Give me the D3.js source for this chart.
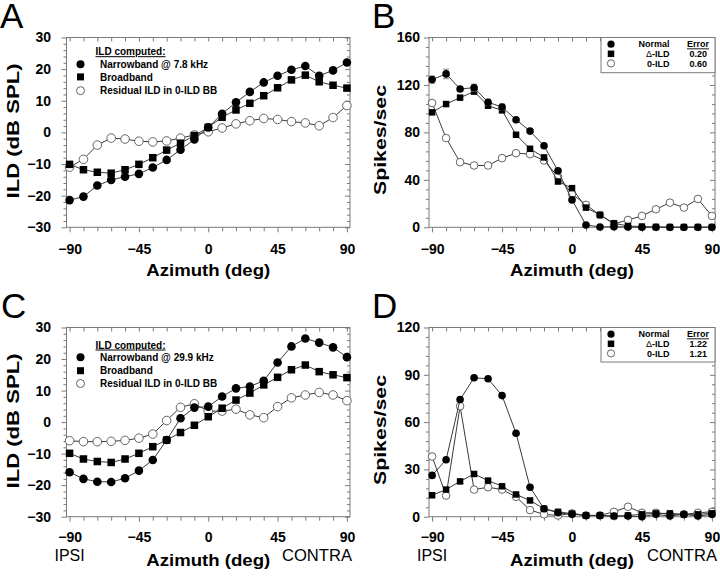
<!DOCTYPE html>
<html><head><meta charset="utf-8">
<script src="https://cdn.jsdelivr.net/npm/d3@7"></script>
<style>
body{margin:0;background:#fff;}
svg{display:block;font-family:"Liberation Sans",Arial,sans-serif;}
</style></head><body>
<svg id="chart" width="720" height="576"></svg>
<script>
// ---------- data ----------
const azimuth = [-90,-81,-72,-63,-54,-45,-36,-27,-18,-9,0,9,18,27,36,45,54,63,72,81,90];
const xTickValues = [-90,-45,0,45,90];

// Panel A (ILD, dB SPL)
const ildA_narrow = [-21.4,-20.3,-16.8,-15.0,-14.0,-13.1,-11.1,-8.7,-5.5,-2.2,1.6,5.9,9.5,12.8,15.8,17.9,19.8,21.0,17.9,19.6,22.1];
const ildA_broad  = [-10.1,-11.8,-12.6,-12.9,-11.8,-10.1,-8.0,-5.6,-3.4,-1.0,1.6,4.8,7.1,9.2,11.6,14.1,16.6,18.1,16.0,14.9,14.0];
const ildA_resid  = [-11.0,-8.5,-4.0,-1.8,-2.1,-2.8,-3.0,-2.7,-1.8,-0.8,0.2,1.4,2.7,3.7,4.4,4.1,3.4,3.0,2.1,4.7,8.5];

// Panel B (Spikes/sec)
const spkB_normal    = [124.5,129.3,116.6,117.7,105.4,101.4,90.7,81.1,68.7,47.6,23.1,2.0,0.3,0.5,0.2,0,0,0,0,0,0];
const spkB_normalErr = [3,4,2,3,2.5,2.5,1.5,1.5,1.5,1.5,1.5,1,0.5,0.5,0,0,0,0,0,0,0];
const spkB_dild      = [96.9,103.9,109.3,114.4,102.5,98.6,78.0,66.2,58.9,38.6,33.0,16.6,10.4,3.4,1.1,0.6,0.3,0.2,0.2,0.2,0.2];
const spkB_zild      = [104.8,75.2,54.9,52.1,52.1,58.3,62.5,61.7,56.3,42.8,28.2,18.9,10.4,2.8,6.2,9.6,15.2,20.8,16.6,23.9,9.6];

// Panel C (ILD, dB SPL)
const ildC_narrow = [-15.9,-18.0,-18.9,-19.0,-17.8,-15.4,-12.0,-5.7,1.2,4.6,4.9,8.1,10.7,11.3,13.1,18.9,24.0,26.5,25.2,23.7,20.6];
const ildC_broad  = [-9.9,-11.7,-12.5,-12.8,-11.7,-9.9,-7.8,-5.7,-3.3,-1.0,1.7,4.4,7.0,9.2,11.8,14.2,16.6,18.1,16.0,15.0,14.1];
const ildC_resid  = [-5.9,-6.2,-6.2,-6.1,-5.8,-5.1,-3.8,0.5,4.7,5.8,3.5,3.5,4.1,2.3,1.4,4.9,7.7,8.6,9.4,8.6,6.8];

// Panel D (Spikes/sec)
const spkD_normal = [26.2,36.1,74.3,88.1,87.5,76.8,52.9,18.7,5.0,2.5,1.5,0.8,0.8,0.4,0.4,0,1.5,0.4,1.5,0.4,1.5];
const spkD_dild   = [13.6,17.2,22.4,27.1,22.9,19.3,14.1,10.3,5.0,3.1,1.9,0.8,0.8,0.4,0.8,1.5,2.1,2.1,1.5,1.5,2.1];
const spkD_zild   = [38.2,13.4,70.1,17.2,18.7,17.2,12.6,4.2,1.5,0.8,2.1,0.8,0.8,3.1,6.3,2.5,2.5,1.5,1.5,2.5,3.1];

// tick labels
const yTicksILD = [-30,-20,-10,0,10,20,30];
const yTicksB   = [0,40,80,120,160];
const yTicksD   = [0,30,60,90,120];

// legend texts
const legendILD_A = ["Narrowband @ 7.8 kHz","Broadband","Residual ILD in 0-ILD BB"];
const legendILD_C = ["Narrowband @ 29.9 kHz","Broadband","Residual ILD in 0-ILD BB"];
const legendSpk   = ["Normal","\u0394-ILD","0-ILD"];
const errorsB = ["0.20","0.60"];
const errorsD = ["1.22","1.21"];

// ---------- drawing ----------
const svg = d3.select("#chart");
const FRAME = "#7a7a7a", LINE = "#3a3a3a";

function panel(cfg){
  const g = svg.append("g");
  const x = d3.scaleLinear().domain([-92,92]).range([cfg.x0,cfg.x1]);
  const y = d3.scaleLinear().domain(cfg.ydom).range([cfg.y1,cfg.y0]);
  const xMinor = azimuth.filter(v=>!xTickValues.includes(v));
  const yMinor = d3.range(cfg.ydom[0], cfg.ydom[1]+1e-9, cfg.minor).filter(v=>!cfg.yTicks.includes(v));
  const clean = s=>{ s.select(".domain").remove(); s.selectAll("line").attr("stroke",FRAME); };

  // frame
  g.append("rect").attr("x",cfg.x0).attr("y",cfg.y0).attr("width",cfg.x1-cfg.x0).attr("height",cfg.y1-cfg.y0)
    .attr("fill","none").attr("stroke",FRAME).attr("stroke-width",1);

  // bottom axis
  const gb = g.append("g").attr("transform",`translate(0,${cfg.y1})`)
    .call(d3.axisBottom(x).tickValues(xTickValues).tickSize(5).tickPadding(cfg.xpad).tickSizeOuter(0)).call(clean);
  gb.selectAll("text").attr("font-family","Liberation Sans, Arial, sans-serif").attr("font-size",14).attr("font-weight","bold").attr("fill","#000");
  g.append("g").attr("transform",`translate(0,${cfg.y1})`)
    .call(d3.axisBottom(x).tickValues(xMinor).tickSize(4).tickFormat("").tickSizeOuter(0)).call(clean);
  // top axis (inward)
  g.append("g").attr("transform",`translate(0,${cfg.y0})`)
    .call(d3.axisTop(x).tickValues(azimuth).tickSize(-4).tickFormat("").tickSizeOuter(0)).call(clean);
  // left axis
  const gl = g.append("g").attr("transform",`translate(${cfg.x0},0)`)
    .call(d3.axisLeft(y).tickValues(cfg.yTicks).tickSize(5).tickPadding(cfg.ypad).tickSizeOuter(0)).call(clean);
  gl.selectAll("text").attr("font-family","Liberation Sans, Arial, sans-serif").attr("font-size",14).attr("font-weight","bold").attr("fill","#000");
  g.append("g").attr("transform",`translate(${cfg.x0},0)`)
    .call(d3.axisLeft(y).tickValues(yMinor).tickSize(3).tickFormat("").tickSizeOuter(0)).call(clean);
  // right axis (inward)
  g.append("g").attr("transform",`translate(${cfg.x1},0)`)
    .call(d3.axisRight(y).tickValues(cfg.yTicks).tickSize(-5).tickFormat("").tickSizeOuter(0)).call(clean);
  g.append("g").attr("transform",`translate(${cfg.x1},0)`)
    .call(d3.axisRight(y).tickValues(yMinor).tickSize(-3).tickFormat("").tickSizeOuter(0)).call(clean);

  // titles
  g.append("text").attr("x",(x(-90)+x(90))/2).attr("y",cfg.xTitleY).attr("text-anchor","middle")
    .attr("font-size",17).attr("font-weight","bold").attr("textLength",124).attr("lengthAdjust","spacingAndGlyphs")
    .text("Azimuth (deg)");
  g.append("text").attr("transform",`translate(${cfg.yTitleX},${cfg.yTitleC}) rotate(-90)`).attr("text-anchor","middle")
    .attr("font-size",16).attr("font-weight","bold").attr("textLength",cfg.yTitleLen).attr("lengthAdjust","spacingAndGlyphs")
    .text(cfg.yTitle);
  g.append("text").attr("x",cfg.letterX).attr("y",cfg.letterY).attr("font-size",35).text(cfg.letter);
  if(cfg.sides){
    g.append("text").attr("x",x(-90)).attr("y",cfg.sideY).attr("text-anchor","middle").attr("font-size",16).text("IPSI");
    g.append("text").attr("x",cfg.x1+2).attr("y",cfg.sideY).attr("text-anchor","end").attr("font-size",16)
      .attr("textLength",70).attr("lengthAdjust","spacingAndGlyphs").text("CONTRA");
  }
  return {g,x,y};
}

function drawSeries(p, vals, type, size, err){
  const pts = azimuth.map((a,i)=>[p.x(a), p.y(vals[i])]);
  if(err){
    const eg = p.g.append("g").attr("stroke","#888").attr("stroke-width",1);
    azimuth.forEach((a,i)=>{
      if(err[i] <= 0) return;
      const cx = p.x(a), t = p.y(vals[i]+err[i]), b = p.y(vals[i]-err[i]);
      eg.append("line").attr("x1",cx).attr("x2",cx).attr("y1",t).attr("y2",b);
      eg.append("line").attr("x1",cx-3).attr("x2",cx+3).attr("y1",t).attr("y2",t);
      eg.append("line").attr("x1",cx-3).attr("x2",cx+3).attr("y1",b).attr("y2",b);
    });
  }
  p.g.append("path").attr("d", d3.line()(pts)).attr("fill","none").attr("stroke",LINE).attr("stroke-width",1);
  drawMarkers(p.g, pts, type, size);
}

function drawMarkers(g, pts, type, size){
  if(type==="square"){
    g.selectAll(null).data(pts).join("rect")
      .attr("x",d=>d[0]-size/2).attr("y",d=>d[1]-size/2).attr("width",size).attr("height",size).attr("fill","#000");
  } else {
    g.selectAll(null).data(pts).join("circle")
      .attr("cx",d=>d[0]).attr("cy",d=>d[1]).attr("r",size)
      .attr("fill", type==="open" ? "#fff" : "#000")
      .attr("stroke", type==="open" ? "#555" : "none").attr("stroke-width",0.9);
  }
}

function ildLegend(g, items, x0, headY, rowYs){
  g.append("text").attr("x",x0+15).attr("y",headY+3.5).attr("font-size",10).attr("font-weight","bold")
    .attr("text-decoration","underline").text("ILD computed:");
  const types = ["filled","square","open"];
  items.forEach((t,i)=>{
    drawMarkers(g, [[x0, rowYs[i]]], types[i], types[i]==="square" ? 7 : 4);
    g.append("text").attr("x",x0+19.5).attr("y",rowYs[i]+3.6).attr("font-size",10).attr("font-weight","bold").text(t);
  });
}

function spkLegend(g, x0, x1, y0, y1, rowYs, errs){
  g.append("rect").attr("x",x0).attr("y",y0).attr("width",x1-x0).attr("height",y1-y0)
    .attr("fill","#fff").attr("stroke",FRAME).attr("stroke-width",1);
  const types = ["filled","square","open"];
  legendSpk.forEach((t,i)=>{
    drawMarkers(g, [[x0+10, rowYs[i]]], types[i], types[i]==="square" ? 6.5 : 3.6);
    const tx = g.append("text").attr("x",x0+68.5).attr("y",rowYs[i]+3.2).attr("text-anchor","end")
      .attr("font-size",9).attr("font-weight","bold");
    if(t.startsWith("\u0394")){
      tx.append("tspan").attr("font-weight","normal").text("\u0394");
      tx.append("tspan").text(t.slice(1));
    } else tx.text(t);
  });
  g.append("text").attr("x",x1-6).attr("y",rowYs[0]+3.2).attr("text-anchor","end").attr("font-size",9)
    .attr("font-weight","bold").attr("text-decoration","underline").text("Error");
  errs.forEach((e,i)=>{
    g.append("text").attr("x",x1-8).attr("y",rowYs[i+1]+3.2).attr("text-anchor","end").attr("font-size",9)
      .attr("font-weight","bold").text(e);
  });
}

// Panel A
const pA = panel({x0:66.5,x1:350,y0:37.5,y1:227.3,ydom:[-30,30],yTicks:yTicksILD,minor:2,ypad:10.5,xpad:12,
  xTitleY:276,yTitle:"ILD (dB SPL)",yTitleX:19,yTitleC:131,yTitleLen:135,letter:"A",letterX:0,letterY:28});
drawSeries(pA, ildA_resid, "open", 4.3);
drawSeries(pA, ildA_broad, "square", 7.5);
drawSeries(pA, ildA_narrow, "filled", 4.3);
ildLegend(pA.g, legendILD_A, 80.5, 51.7, [64.2, 76.9, 90.7]);

// Panel B
const pB = panel({x0:429,x1:715,y0:37.5,y1:227.3,ydom:[0,160],yTicks:yTicksB,minor:8,ypad:4,xpad:12,
  xTitleY:276,yTitle:"Spikes/sec",yTitleX:386,yTitleC:140,yTitleLen:110,letter:"B",letterX:372,letterY:28});
drawSeries(pB, spkB_zild, "open", 3.8);
drawSeries(pB, spkB_dild, "square", 6.5);
drawSeries(pB, spkB_normal, "filled", 3.8, spkB_normalErr);
spkLegend(pB.g, 601, 715, 37.5, 72.7, [44.2, 53.8, 63.4], errorsB);

// Panel C
const pC = panel({x0:66.5,x1:350,y0:327.5,y1:516.7,ydom:[-30,30],yTicks:yTicksILD,minor:2,ypad:10.5,xpad:10.5,
  xTitleY:566,yTitle:"ILD (dB SPL)",yTitleX:19,yTitleC:421,yTitleLen:135,letter:"C",letterX:1,letterY:318,
  sides:true,sideY:560.5});
drawSeries(pC, ildC_resid, "open", 4.3);
drawSeries(pC, ildC_broad, "square", 7.5);
drawSeries(pC, ildC_narrow, "filled", 4.3);
ildLegend(pC.g, legendILD_C, 80.5, 345, [357.3, 370.7, 383.5]);

// Panel D
const pD = panel({x0:429,x1:715,y0:327.5,y1:516.7,ydom:[0,120],yTicks:yTicksD,minor:6,ypad:4,xpad:10.5,
  xTitleY:566,yTitle:"Spikes/sec",yTitleX:386,yTitleC:430,yTitleLen:110,letter:"D",letterX:372,letterY:318,
  sides:true,sideY:560.5});
drawSeries(pD, spkD_zild, "open", 3.8);
drawSeries(pD, spkD_dild, "square", 6.5);
drawSeries(pD, spkD_normal, "filled", 3.8);
spkLegend(pD.g, 601, 715, 327.5, 362, [334.2, 343.8, 353.4], errorsD);
</script>
</body></html>
